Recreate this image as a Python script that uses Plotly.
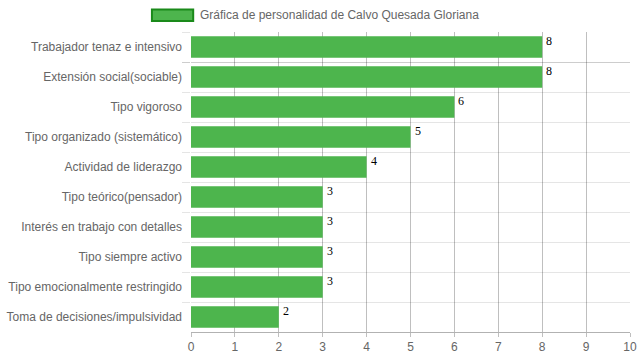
import plotly.graph_objects as go

categories = [
    "Trabajador tenaz e intensivo",
    "Extensión social(sociable)",
    "Tipo vigoroso",
    "Tipo organizado (sistemático)",
    "Actividad de liderazgo",
    "Tipo teórico(pensador)",
    "Interés en trabajo con detalles",
    "Tipo siempre activo",
    "Tipo emocionalmente restringido",
    "Toma de decisiones/impulsividad",
]
values = [8, 8, 6, 5, 4, 3, 3, 3, 3, 2]
series_name = "Gráfica de personalidad de Calvo Quesada Gloriana"
x_ticks = list(range(0, 11))

BAR_FILL = "#4DB54D"
BAR_EDGE = "#1A8A1A"

fig = go.Figure()
fig.add_trace(go.Bar(
    x=values, y=categories, orientation="h", name=series_name,
    marker=dict(color=BAR_FILL, line=dict(width=0)),
    showlegend=False,
))

for c, v in zip(categories, values):
    fig.add_annotation(x=v, y=c, text=str(v), showarrow=False,
                       xanchor="left", yanchor="middle", xshift=2, yshift=6,
                       font=dict(family="Liberation Serif", size=12, color="#000"))

# legend (Chart.js style wide box)
fig.add_shape(type="rect", xref="paper", yref="paper",
              x0=-0.089, x1=0.005, y0=1.037, y1=1.075,
              fillcolor=BAR_FILL, line=dict(color=BAR_EDGE, width=2))
fig.add_annotation(xref="paper", yref="paper", x=0.016, y=1.057,
                   text=series_name, showarrow=False,
                   xanchor="left", yanchor="middle",
                   font=dict(size=12, color="#666"))

fig.update_layout(
    width=639, height=360,
    margin=dict(l=191, r=9, t=32, b=28, autoexpand=False),
    paper_bgcolor="white", plot_bgcolor="white",
    font=dict(family="Liberation Sans, Arial", size=12, color="#666"),
    bargap=0.28,
    showlegend=False,
    xaxis=dict(range=[0, 10], tickvals=x_ticks, showgrid=True,
               gridcolor="rgba(0,0,0,0.25)", gridwidth=1,
               ticks="outside", ticklen=4, tickcolor="rgba(0,0,0,0.25)",
               showline=True, linecolor="rgba(0,0,0,0.3)", zeroline=False,
               layer="above traces", automargin=False),
    yaxis=dict(type="category", autorange="reversed", tickson="boundaries",
               showgrid=True, gridcolor="rgba(0,0,0,0.1)",
               ticks="outside", ticklen=8, tickcolor="rgba(0,0,0,0.1)",
               ticklabelstandoff=8,
               showline=False, zeroline=False, automargin=False),
)

fig.write_html("out.html", config={"displayModeBar": False},
               post_script="document.body.style.margin='0';document.body.style.overflow='hidden';")
